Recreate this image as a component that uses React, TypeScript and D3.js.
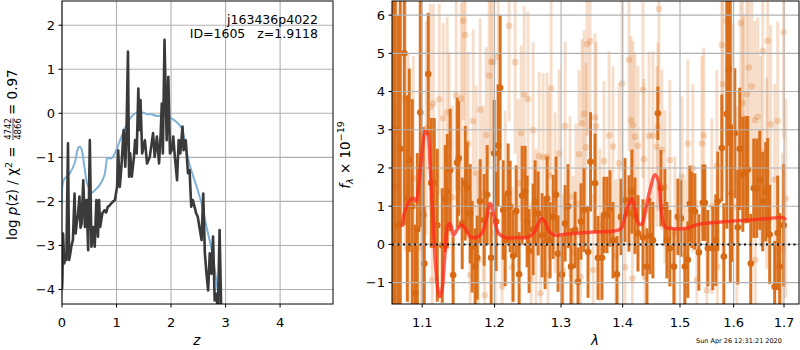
import React from 'react';
import * as d3 from 'd3';

const WIDTH = 800;
const HEIGHT = 350;
const FONT = 'DejaVu Sans, sans-serif';

const pzBox = { left: 62, right: 333, top: 1, bottom: 304 };
const specBox = { left: 392, right: 799, top: 1, bottom: 304 };

// ---- p(z) panel ----
const zTicks = [0, 1, 2, 3, 4];
const logpTicks = [-4, -3, -2, -1, 0, 1, 2];

const chi2Z = [0, 0.007, 0.02, 0.04, 0.06, 0.08, 0.11, 0.13, 0.15, 0.17, 0.2, 0.23, 0.25, 0.27, 0.29, 0.32, 0.34, 0.36, 0.39, 0.42, 0.45, 0.48, 0.51, 0.54, 0.57, 0.6, 0.63, 0.66, 0.68, 0.7, 0.74, 0.78, 0.81, 0.84, 0.87, 0.9, 0.94, 0.97, 1.01, 1.03, 1.06, 1.09, 1.13, 1.16, 1.18, 1.21, 1.23, 1.25, 1.28, 1.32, 1.34, 1.37, 1.4, 1.42, 1.44, 1.47, 1.52, 1.56, 1.61, 1.67, 1.7, 1.74, 1.78, 1.81, 1.83, 1.85, 1.88, 1.92, 1.95, 1.98, 2.01, 2.04, 2.07, 2.11, 2.14, 2.17, 2.21, 2.23, 2.27, 2.31, 2.34, 2.37, 2.4, 2.43, 2.46, 2.49, 2.52, 2.56, 2.59, 2.62, 2.65, 2.68, 2.71, 2.74, 2.77, 2.8, 2.83, 2.86, 2.89, 2.92, 2.95];
const chi2LogP = [-4.0, -3.79, -2.73, -3.41, -3.3, -3.33, -0.68, -3.33, -3.2, -3.03, -2.88, -1.82, -2.73, -2.5, -2.35, -1.89, -2.6, -2.5, -1.52, -2.58, -1.97, -3.11, -0.61, -3.03, -2.58, -3.03, -1.97, -2.8, -1.97, -2.58, -2.27, -2.2, -2.25, -2.12, -2.1, -2.05, -2.0, -1.97, -1.67, -0.84, -1.67, -1.21, -0.38, -1.21, -0.61, 1.4, -1.44, -0.91, -1.44, -0.99, -0.61, -0.91, 0.56, -0.38, 0.3, -0.91, -0.61, -1.14, -0.99, -0.45, -0.99, -0.53, -1.14, -0.45, 0.22, -0.91, 1.67, -0.61, 0.83, -0.91, -0.84, -0.53, -0.99, -1.52, -0.61, -0.91, -0.3, -0.84, -0.61, -1.36, -1.29, -2.12, -1.97, -2.12, -2.27, -2.35, -2.58, -2.88, -1.82, -3.18, -3.64, -4.02, -3.18, -3.64, -2.8, -4.25, -4.1, -4.5, -2.65, -4.5, -4.4];

const priorZ = [0, 0.03, 0.14, 0.23, 0.3, 0.33, 0.36, 0.41, 0.47, 0.55, 0.6, 0.69, 0.78, 0.81, 0.83, 0.91, 1.0, 1.09, 1.18, 1.27, 1.36, 1.49, 1.57, 1.64, 1.73, 1.86, 1.98, 2.1, 2.2, 2.26, 2.35, 2.47, 2.56, 2.65, 2.74, 2.83, 2.88, 2.92];
const priorLogP = [-2.05, -1.52, -1.37, -1.14, -0.78, -0.76, -0.82, -1.21, -1.63, -1.8, -1.75, -1.63, -1.4, -1.15, -1.02, -1.02, -0.82, -0.53, -0.27, -0.08, 0.01, 0.01, -0.02, -0.02, -0.06, -0.05, -0.1, -0.2, -0.35, -0.72, -1.21, -1.67, -2.05, -2.58, -3.07, -3.79, -4.25, -4.6];

// ---- spectrum panel ----
const waveTicks = [1.1, 1.2, 1.3, 1.4, 1.5, 1.6, 1.7];
const fluxTicks = [-1, 0, 1, 2, 3, 4, 5, 6];

const darkWave = [1.0623, 1.0649, 1.0687, 1.0713, 1.0765, 1.0804, 1.083, 1.0869, 1.0909, 1.0935, 1.0974, 1.1014, 1.1027, 1.108, 1.112, 1.116, 1.1201, 1.1268, 1.1309, 1.1336, 1.1376, 1.1417, 1.1473, 1.1493, 1.1542, 1.1584, 1.1611, 1.1653, 1.1681, 1.1723, 1.1752, 1.1794, 1.1851, 1.1894, 1.1951, 1.1995, 1.2023, 1.2052, 1.2081, 1.2125, 1.2154, 1.2198, 1.2227, 1.2271, 1.2316, 1.236, 1.2405, 1.245, 1.248, 1.2509, 1.257, 1.26, 1.2646, 1.2707, 1.2752, 1.2783, 1.2829, 1.2876, 1.2922, 1.2953, 1.3015, 1.3063, 1.311, 1.3157, 1.3221, 1.3268, 1.3316, 1.3364, 1.3429, 1.3469, 1.3542, 1.3591, 1.3656, 1.3689, 1.3738, 1.3788, 1.3838, 1.3905, 1.3972, 1.4039, 1.4106, 1.4157, 1.4209, 1.426, 1.4346, 1.4415, 1.4467, 1.4519, 1.4606, 1.4659, 1.473, 1.4765, 1.4818, 1.489, 1.4962, 1.5016, 1.5088, 1.5142, 1.5179, 1.5216, 1.5271, 1.5344, 1.5418, 1.5455, 1.5511, 1.5604, 1.5661, 1.5698, 1.5774, 1.5812, 1.5869, 1.5907, 1.5936, 1.5964, 1.6022, 1.608, 1.6118, 1.6177, 1.6235, 1.6274, 1.6333, 1.6392, 1.6451, 1.651, 1.657, 1.6629, 1.6669, 1.6709, 1.681, 1.6871, 1.6911, 1.6993];
const darkFlux = [1.5, 3.0, 0.5, 2.5, 5.0, 1.2, 2.2, 1.0, -1.28, 0.39, 3.45, 0.77, -0.5, 4.46, 1.61, 1.61, 0.5, -0.03, 1.2, 1.39, 1.95, -0.8, 2.14, 2.25, 0.55, 1.6, 1.48, 0.8, -0.06, -0.58, -0.35, 1.13, 0.64, 1.3, -0.35, 2.38, 0.6, 2.59, 4.1, 0.9, 0.11, 1.34, 0.99, -0.3, 0.87, -0.78, 1.28, 1.38, 0.6, -0.17, 0.39, 1.1, 0.81, 0.24, 0.03, 1.2, 0.11, 0.72, 1.3, -0.24, -0.79, 0.55, 1.0, -0.58, 0.38, -0.98, 0.6, 0.9, -0.2, 2.16, 1.6, -0.35, -0.35, 0.77, 0.77, 0.94, 0.11, -0.78, 0.72, 1.16, 0.81, 1.38, 0.75, 0.29, 0.18, -0.58, 0.22, 0.11, 3.43, 1.47, 0.97, 0.11, -0.1, -0.58, 0.72, 0.68, -0.58, -0.4, 1.06, 0.9, 0.86, -0.21, 1.09, 1.09, -0.1, -0.1, 0.11, 1.13, 2.52, -0.32, 3.41, 4.58, 3.0, 1.34, 2.91, 0.45, 2.5, 1.83, 1.95, 1.96, -0.5, 1.47, 1.47, 1.68, 1.12, 1.38, 1.48, 0.26, -1.11, 0.3, -0.58, 0.5];
const darkErr = [6, 6, 5.5, 5, 4.5, 2.7, 2.4, 2.8, 1.8, 2.0, 3.0, 2.3, 1.5, 1.6, 1.7, 1.7, 2.0, 1.5, 1.4, 1.5, 1.6, 1.0, 1.7, 1.5, 1.2, 1.5, 1.2, 1.3, 1.2, 1.0, 1.1, 1.1, 1.2, 1.3, 1.2, 1.4, 1.3, 1.6, 1.9, 1.3, 1.2, 1.3, 1.2, 1.2, 1.2, 1.1, 1.3, 1.2, 1.2, 1.1, 1.2, 1.1, 1.1, 1.1, 1.2, 1.1, 1.0, 1.1, 1.0, 1.0, 1.0, 1.0, 1.1, 1.0, 1.0, 0.9, 1.0, 1.1, 1.2, 1.3, 1.3, 1.1, 1.1, 1.0, 1.0, 1.0, 1.0, 1.0, 1.0, 1.1, 1.0, 1.1, 1.0, 1.0, 1.0, 1.0, 1.0, 1.0, 0.7, 1.0, 1.0, 1.0, 1.0, 1.0, 1.0, 1.0, 1.0, 1.0, 1.0, 1.0, 1.0, 1.0, 1.0, 1.0, 1.0, 1.1, 1.2, 1.3, 1.4, 1.4, 3.0, 2.0, 4.0, 1.8, 1.7, 1.5, 1.6, 1.5, 1.4, 1.4, 1.3, 1.3, 1.3, 1.3, 1.3, 1.3, 1.3, 1.3, 1.2, 1.5, 1.4, 1.6];

const lightWave = [1.0662, 1.0778, 1.0817, 1.0882, 1.0987, 1.1053, 1.1106, 1.1133, 1.1147, 1.1228, 1.1282, 1.1336, 1.1362, 1.1404, 1.1459, 1.1528, 1.1556, 1.1584, 1.1625, 1.1653, 1.1695, 1.1738, 1.1766, 1.1794, 1.1837, 1.1859, 1.188, 1.1923, 1.1951, 1.198, 1.2009, 1.2052, 1.211, 1.2154, 1.2212, 1.2257, 1.2301, 1.2345, 1.239, 1.2435, 1.2494, 1.2539, 1.257, 1.2615, 1.2661, 1.2684, 1.2722, 1.2783, 1.2798, 1.2814, 1.2845, 1.2907, 1.2969, 1.3031, 1.3063, 1.3141, 1.3188, 1.3236, 1.3284, 1.3308, 1.3332, 1.3364, 1.3397, 1.3413, 1.3461, 1.351, 1.3542, 1.3558, 1.3623, 1.3689, 1.3772, 1.3838, 1.3888, 1.3938, 1.3989, 1.4039, 1.4106, 1.414, 1.4166, 1.4174, 1.4209, 1.426, 1.4346, 1.4363, 1.4381, 1.445, 1.4519, 1.4589, 1.4606, 1.4624, 1.4676, 1.473, 1.4818, 1.4908, 1.5034, 1.5088, 1.5142, 1.5234, 1.5307, 1.5399, 1.5436, 1.5492, 1.5586, 1.568, 1.5689, 1.5774, 1.5793, 1.5869, 1.5984, 1.6061, 1.6138, 1.6177, 1.6196, 1.6255, 1.6294, 1.6352, 1.6412, 1.6422, 1.6471, 1.653, 1.657, 1.6649, 1.6669, 1.6729, 1.681, 1.6871, 1.6972, 1.6993, 1.7034];
const lightFlux = [3.5, 3.82, 1.48, 1.73, -0.1, 3.04, 3.6, -0.93, 3.69, 3.8, 3.3, 3.45, 2.63, 1.23, 3.9, 3.82, 5.85, 5.48, 2.64, -0.8, 3.23, 1.86, -0.41, 3.52, 1.34, -1.33, 2.86, 4.42, 4.78, 4.77, 0.3, 4.91, -1.1, 1.3, 5.72, -0.6, 4.77, 1.6, 2.91, 3.93, 3.8, -0.9, 2.99, 0.4, 2.31, -1.28, 2.28, 2.29, -0.8, 1.8, 4.08, 1.35, 2.38, -0.69, 3.1, 1.25, -0.2, 1.07, 2.36, -0.85, 3.17, 3.41, 2.54, 5.24, 5.32, -0.67, 3.32, 3.1, 0.5, 2.18, 2.85, 2.56, -0.3, 2.12, 4.21, -0.6, 4.83, 3.25, -0.89, 3.12, 2.82, 2.58, 4.04, 2.23, -0.85, 2.84, 2.85, 2.56, 3.08, 6.16, 2.47, 1.51, 2.21, 0.3, 1.77, -0.3, 2.64, 1.99, -0.93, 2.64, 2.85, -1.2, 1.0, 2.06, -0.58, 5.22, 4.19, 5.84, 3.0, 1.0, 5.79, 3.7, 3.3, 3.93, 4.63, 4.14, 3.25, -0.41, 3.34, 2.43, 5.06, 1.86, 5.33, 3.14, 1.7, 3.23, -0.1, 5.55, 1.2];
const lightErr = [5, 4, 3.5, 3.2, 3, 2.8, 2.7, 2.5, 2.6, 2.5, 2.5, 2.5, 2.4, 2.4, 2.5, 2.5, 2.6, 2.6, 2.4, 2.2, 2.4, 2.3, 2.2, 2.4, 2.3, 2.0, 2.3, 2.4, 2.4, 2.4, 2.2, 2.4, 2.0, 2.2, 2.5, 2.1, 2.4, 2.2, 2.3, 2.3, 2.3, 2.0, 2.3, 2.1, 2.2, 2.0, 2.2, 2.2, 2.0, 2.2, 2.3, 2.1, 2.2, 2.0, 2.2, 2.1, 2.0, 2.1, 2.2, 2.0, 2.2, 2.2, 2.2, 2.4, 2.4, 2.0, 2.2, 2.2, 2.0, 2.1, 2.2, 2.1, 2.0, 2.1, 2.3, 2.0, 2.4, 2.2, 2.0, 2.2, 2.2, 2.1, 2.3, 2.1, 2.0, 2.2, 2.2, 2.1, 2.2, 2.5, 2.1, 2.0, 2.1, 2.0, 2.1, 2.0, 2.2, 2.2, 2.1, 2.3, 2.3, 2.1, 2.3, 2.5, 2.4, 2.8, 2.8, 3.0, 2.8, 2.6, 2.9, 2.7, 2.7, 2.7, 2.8, 2.7, 2.6, 2.4, 2.6, 2.5, 2.8, 2.5, 2.8, 2.6, 2.5, 2.6, 2.5, 2.8, 2.6];

const modelWave = [1.0735, 1.0778, 1.0843, 1.0886, 1.0921, 1.0951, 1.0996, 1.104, 1.1071, 1.1106, 1.1142, 1.1173, 1.1204, 1.1231, 1.1264, 1.1299, 1.134, 1.1376, 1.1422, 1.1468, 1.1537, 1.1597, 1.1653, 1.1738, 1.1818, 1.188, 1.1937, 1.1995, 1.2057, 1.2154, 1.2326, 1.2475, 1.2574, 1.265, 1.2702, 1.2752, 1.2818, 1.2906, 1.3089, 1.3461, 1.3955, 1.401, 1.4067, 1.4152, 1.4197, 1.4266, 1.4323, 1.4381, 1.4455, 1.4555, 1.4612, 1.4671, 1.4729, 1.4818, 1.5118, 1.524, 1.5362, 1.5799, 1.6313, 1.6709, 1.6979, 1.7034];
const modelFlux = [0.46, 0.9, 1.16, 1.2, 1.12, 1.51, 2.38, 2.95, 2.9, 2.03, 0.72, -0.41, -1.11, -1.37, -1.2, -0.41, 0.46, 0.55, 0.24, 0.38, 0.51, 0.38, 0.2, 0.18, 0.29, 0.64, 1.07, 0.72, 0.29, 0.18, 0.18, 0.18, 0.29, 0.55, 0.68, 0.59, 0.33, 0.24, 0.27, 0.32, 0.39, 0.55, 0.9, 1.2, 0.99, 0.55, 0.53, 0.81, 1.34, 1.82, 1.68, 0.81, 0.46, 0.42, 0.42, 0.48, 0.53, 0.59, 0.64, 0.68, 0.7, 0.64];

const ORANGE = '#d96a14';
const GRID = '#b0b0b0';
const minus = (s: string) => s.replace('-', '\u2212');

const App = () => {
    const xZ = d3.scaleLinear().domain([0, 4.97]).range([pzBox.left, pzBox.right]);
    const yP = d3.scaleLinear().domain([-4.33, 2.55]).range([pzBox.bottom, pzBox.top]);
    const xW = d3.scaleLog().domain([1.0607, 1.7309]).range([specBox.left, specBox.right]);
    const yF = d3.scaleLinear().domain([-1.56, 6.37]).range([specBox.bottom, specBox.top]);

    const chi2Line = d3.line<number>().x((d, i) => xZ(chi2Z[i])).y(d => yP(d));
    const priorLine = d3.line<number>().x((d, i) => xZ(priorZ[i])).y(d => yP(d)).curve(d3.curveCatmullRom);
    const modelLine = d3.line<number>().x((d, i) => xW(modelWave[i])).y(d => yF(d)).curve(d3.curveCatmullRom);

    const txt = { fontFamily: FONT, fill: '#000' };

    return (
        <svg width={WIDTH} height={HEIGHT} style={{ position: 'fixed', left: 0, top: 0, background: '#fff' }}>
            <defs>
                <clipPath id="clipPz"><rect x={pzBox.left} y={pzBox.top} width={pzBox.right - pzBox.left} height={pzBox.bottom - pzBox.top} /></clipPath>
                <clipPath id="clipSpec"><rect x={specBox.left} y={specBox.top} width={specBox.right - specBox.left} height={specBox.bottom - specBox.top} /></clipPath>
            </defs>
            <rect width={WIDTH} height={HEIGHT} fill="#fff" />

            {/* left: p(z) */}
            <g>
                {zTicks.map(t => <line key={'gx' + t} x1={xZ(t)} x2={xZ(t)} y1={pzBox.top} y2={pzBox.bottom} stroke={GRID} strokeWidth={1.1} />)}
                {logpTicks.map(t => <line key={'gy' + t} x1={pzBox.left} x2={pzBox.right} y1={yP(t)} y2={yP(t)} stroke={GRID} strokeWidth={1.1} />)}
                <g clipPath="url(#clipPz)">
                    <path d={priorLine(priorLogP) || ''} fill="none" stroke="#7fb2d8" strokeWidth={2} />
                    <path d={chi2Line(chi2LogP) || ''} fill="none" stroke="#3a3a3a" strokeWidth={2.6} strokeLinejoin="round" />
                </g>
                <rect x={pzBox.left} y={pzBox.top} width={pzBox.right - pzBox.left} height={pzBox.bottom - pzBox.top} fill="none" stroke="#000" strokeWidth={1} />
                {zTicks.map(t => (
                    <g key={'tx' + t}>
                        <line x1={xZ(t)} x2={xZ(t)} y1={pzBox.bottom} y2={pzBox.bottom + 3.5} stroke="#000" />
                        <text x={xZ(t)} y={327} textAnchor="middle" fontSize={13} style={txt}>{t}</text>
                    </g>
                ))}
                {logpTicks.map(t => (
                    <g key={'ty' + t}>
                        <line x1={pzBox.left - 3.5} x2={pzBox.left} y1={yP(t)} y2={yP(t)} stroke="#000" />
                        <text x={pzBox.left - 7} y={yP(t) + 4.7} textAnchor="end" fontSize={13} style={txt}>{minus(String(t))}</text>
                    </g>
                ))}
                <text x={xZ(2.47)} y={345} textAnchor="middle" fontSize={13.5} fontStyle="italic" style={txt}>z</text>
                <text x={318} y={24} textAnchor="end" fontSize={12.5} style={txt}>j163436p4022</text>
                <text x={318} y={38} textAnchor="end" fontSize={12.5} style={{ ...txt, whiteSpace: 'pre' }}>{'ID=1605   z=1.9118'}</text>
                <g transform="translate(17,240) rotate(-90)" style={txt}>
                    <text x={0} y={0} fontSize={13.5}>
                        log <tspan fontStyle="italic">p</tspan>(z) / χ<tspan fontSize={9.5} dy={-5}>2</tspan><tspan dy={5}> =</tspan>
                    </text>
                    <text x={111} y={-6} fontSize={8.5} textAnchor="middle">4742</text>
                    <line x1={100} x2={122} y1={-4} y2={-4} stroke="#000" strokeWidth={0.7} />
                    <text x={111} y={3.5} fontSize={8.5} textAnchor="middle">4866</text>
                    <text x={125} y={0} fontSize={13.5}>= 0.97</text>
                </g>
            </g>

            {/* right: spectrum */}
            <g>
                <g clipPath="url(#clipSpec)">
                    {lightFlux.map((f, i) => (
                        <line key={'le' + i} x1={xW(lightWave[i])} x2={xW(lightWave[i])} y1={yF(f - lightErr[i])} y2={yF(f + lightErr[i])} stroke={ORANGE} strokeOpacity={0.22} strokeWidth={3} />
                    ))}
                    {lightFlux.map((f, i) => (
                        <circle key={'lp' + i} cx={xW(lightWave[i])} cy={yF(f)} r={3.3} fill={ORANGE} fillOpacity={0.25} />
                    ))}
                    {darkFlux.map((f, i) => (
                        <line key={'de' + i} x1={xW(darkWave[i])} x2={xW(darkWave[i])} y1={yF(f - darkErr[i])} y2={yF(f + darkErr[i])} stroke={ORANGE} strokeOpacity={0.95} strokeWidth={3} />
                    ))}
                    {darkFlux.map((f, i) => (
                        <circle key={'dp' + i} cx={xW(darkWave[i])} cy={yF(f)} r={3.3} fill={ORANGE} />
                    ))}
                </g>
                {waveTicks.map(t => <line key={'gwx' + t} x1={xW(t)} x2={xW(t)} y1={specBox.top} y2={specBox.bottom} stroke={GRID} strokeWidth={1.1} />)}
                {fluxTicks.map(t => <line key={'gwy' + t} x1={specBox.left} x2={specBox.right} y1={yF(t)} y2={yF(t)} stroke={GRID} strokeWidth={1.1} />)}
                <g clipPath="url(#clipSpec)">
                    <path d={modelLine(modelFlux) || ''} fill="none" stroke="#ff2a1a" strokeOpacity={0.75} strokeWidth={3.5} strokeLinejoin="round" />
                </g>
                <line x1={specBox.left} x2={specBox.right} y1={yF(0)} y2={yF(0)} stroke="#111" strokeWidth={2} strokeDasharray="2,3.5" />
                <rect x={specBox.left} y={specBox.top} width={specBox.right - specBox.left} height={specBox.bottom - specBox.top} fill="none" stroke="#000" strokeWidth={1} />
                {waveTicks.map(t => (
                    <g key={'twx' + t}>
                        <line x1={xW(t)} x2={xW(t)} y1={specBox.bottom} y2={specBox.bottom + 3.5} stroke="#000" />
                        <text x={xW(t)} y={327} textAnchor="middle" fontSize={13} style={txt}>{d3.format('.1f')(t)}</text>
                    </g>
                ))}
                {fluxTicks.map(t => (
                    <g key={'twy' + t}>
                        <line x1={specBox.left - 3.5} x2={specBox.left} y1={yF(t)} y2={yF(t)} stroke="#000" />
                        <text x={specBox.left - 7} y={yF(t) + 4.7} textAnchor="end" fontSize={13} style={txt}>{minus(String(t))}</text>
                    </g>
                ))}
                <text x={595} y={345} textAnchor="middle" fontSize={13.5} fontStyle="italic" style={txt}>λ</text>
                <g transform="translate(350,155) rotate(-90)" style={txt}>
                    <text x={0} y={0} fontSize={13.5} textAnchor="middle">
                        <tspan fontStyle="italic">f</tspan><tspan fontSize={9.5} dy={3} fontStyle="italic">λ</tspan><tspan dy={-3}> × 10</tspan><tspan fontSize={9.5} dy={-6}>−19</tspan>
                    </text>
                </g>
                <text x={696} y={343} fontSize={6.5} style={txt}>Sun Apr 26 12:31:21 2020</text>
            </g>
        </svg>
    );
};

export default App;
